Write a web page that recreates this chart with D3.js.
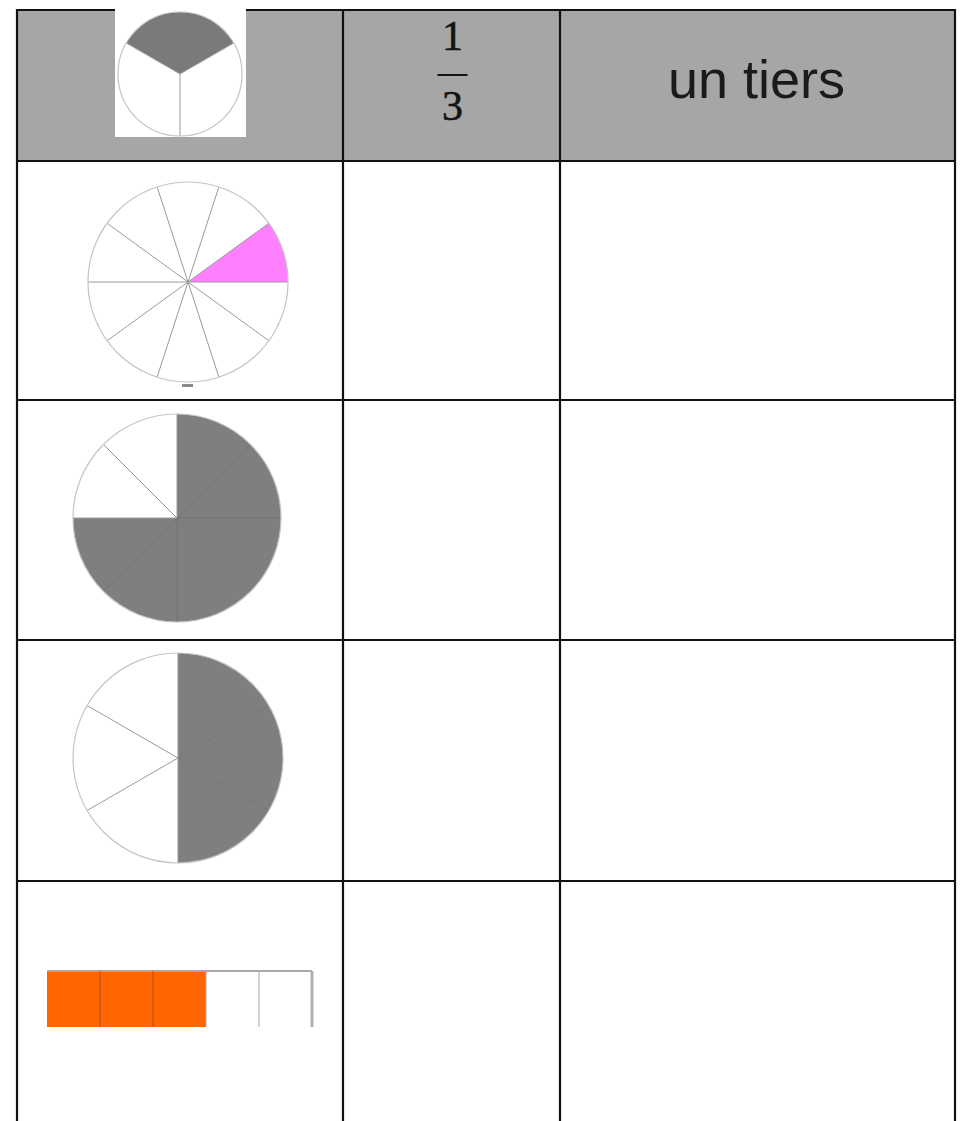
<!DOCTYPE html>
<html>
<head>
<meta charset="utf-8">
<script src="https://cdn.jsdelivr.net/npm/d3@7"></script>
<style>
  body { margin: 0; background: #fff; }
  svg { display: block; }
</style>
</head>
<body>
<svg width="960" height="1121"></svg>
<script>
// fraction models, one per row (header first)
const pieParts = [3, 10, 8, 6];
const pieShaded = [[0], [1], [0, 1, 2, 3, 4, 5], [0, 1, 2]];
const pieOffsetDeg = [-60, 18, 0, 0];
const pieColors = ['#7a7a7a', '#ff80ff', '#7f7f7f', '#7f7f7f'];

const barParts = [0, 1, 2, 3, 4];
const barShaded = [0, 1, 2];

const fracNum = '1';
const fracDen = '3';
const headerWord = 'un tiers';

const svg = d3.select('svg');
const colX = [17, 343, 560, 955];
const rowY = [10, 161, 400, 640, 881, 1121];

// header background
svg.append('rect')
    .attr('x', colX[0]).attr('y', rowY[0])
    .attr('width', colX[3] - colX[0]).attr('height', rowY[1] - rowY[0])
    .attr('fill', '#a6a6a6');

// grid lines
const grid = svg.append('g').attr('stroke', '#111').attr('stroke-width', 2.2);
rowY.slice(0, 5).forEach(y => {
    grid.append('line').attr('x1', colX[0] - 1).attr('x2', colX[3] + 1).attr('y1', y).attr('y2', y);
});
colX.forEach(x => {
    grid.append('line').attr('x1', x).attr('x2', x).attr('y1', rowY[0] - 1).attr('y2', rowY[5]);
});

// header texts
const fx = (colX[1] + colX[2]) / 2 + 1;
svg.append('text').attr('x', fx).attr('y', 50)
    .attr('text-anchor', 'middle')
    .style('font-family', '"Liberation Serif", "DejaVu Serif", serif')
    .style('font-size', '42px').attr('fill', '#141414')
    .attr('stroke', '#141414').attr('stroke-width', 0.6)
    .text(fracNum);
svg.append('line').attr('x1', fx - 15).attr('x2', fx + 15).attr('y1', 75).attr('y2', 75)
    .attr('stroke', '#141414').attr('stroke-width', 2);
svg.append('text').attr('x', fx).attr('y', 120)
    .attr('text-anchor', 'middle')
    .style('font-family', '"Liberation Serif", "DejaVu Serif", serif')
    .style('font-size', '42px').attr('fill', '#141414')
    .attr('stroke', '#141414').attr('stroke-width', 0.6)
    .text(fracDen);

svg.append('text').attr('x', (colX[2] + colX[3]) / 2 - 1).attr('y', 98)
    .attr('text-anchor', 'middle')
    .style('font-family', '"Liberation Sans", Arial, sans-serif')
    .style('font-size', '54px').attr('fill', '#1a1a1a')
    .text(headerWord);

// pies
const pieBoxes = [
    { cx: 180, cy: 74, r: 62 },
    { cx: 188, cy: 282, r: 100 },
    { cx: 177, cy: 518, r: 104 },
    { cx: 178, cy: 758, r: 105 }
];

// white box behind header pie
svg.append('rect').attr('x', 115).attr('y', 3).attr('width', 131).attr('height', 134).attr('fill', '#fff');

pieParts.forEach((n, i) => {
    const b = pieBoxes[i];
    const off = pieOffsetDeg[i] * Math.PI / 180;
    const pie = d3.pie().sort(null).value(1)
        .startAngle(off).endAngle(off + 2 * Math.PI);
    const arcs = pie(d3.range(n));
    const arc = d3.arc().innerRadius(0).outerRadius(b.r);
    const g = svg.append('g').attr('transform', `translate(${b.cx},${b.cy})`);

    g.selectAll('path.slice')
        .data(arcs)
        .join('path')
        .attr('class', 'slice')
        .attr('d', arc)
        .attr('fill', d => pieShaded[i].includes(d.index) ? pieColors[i] : '#fff')
        .attr('stroke', 'none');

    // radii
    g.selectAll('line.radius')
        .data(arcs)
        .join('line')
        .attr('class', 'radius')
        .attr('x1', 0).attr('y1', 0)
        .attr('x2', d => b.r * Math.sin(d.startAngle))
        .attr('y2', d => -b.r * Math.cos(d.startAngle))
        .attr('stroke', d => {
            const prev = (d.index - 1 + n) % n;
            const shadedNow = pieShaded[i].includes(d.index) && pieShaded[i].includes(prev);
            return shadedNow ? '#737373' : '#9a9a9a';
        })
        .attr('stroke-width', 1);

    g.append('circle').attr('r', b.r)
        .attr('fill', 'none')
        .attr('stroke', '#c4c4c4')
        .attr('stroke-width', 1.2);
});

// small mark under the ten-part pie
svg.append('rect')
    .attr('x', pieBoxes[1].cx - 6).attr('y', pieBoxes[1].cy + pieBoxes[1].r + 2)
    .attr('width', 11).attr('height', 3).attr('fill', '#8a8a8a');

// bar model
const bx = d3.scaleBand().domain(barParts).range([47, 312]).padding(0);
const barTop = 971, barH = 56;
const bar = svg.append('g');
bar.selectAll('rect')
    .data(barParts)
    .join('rect')
    .attr('x', d => bx(d)).attr('y', barTop)
    .attr('width', bx.bandwidth()).attr('height', barH)
    .attr('fill', d => barShaded.includes(d) ? '#ff6600' : '#fff');
bar.append('line')
    .attr('x1', bx(barParts[0])).attr('x2', bx(barParts[4]) + bx.bandwidth())
    .attr('y1', barTop).attr('y2', barTop)
    .attr('stroke', '#a8a8a8').attr('stroke-width', 2);
bar.selectAll('line.div')
    .data(barParts.slice(1))
    .join('line')
    .attr('class', 'div')
    .attr('x1', d => bx(d)).attr('x2', d => bx(d))
    .attr('y1', barTop).attr('y2', barTop + barH)
    .attr('stroke', d => barShaded.includes(d) ? '#a0502a' : '#a8a8a8')
    .attr('stroke-width', 1);
bar.append('line')
    .attr('x1', bx(barParts[4]) + bx.bandwidth()).attr('x2', bx(barParts[4]) + bx.bandwidth())
    .attr('y1', barTop).attr('y2', barTop + barH)
    .attr('stroke', '#b0b0b0').attr('stroke-width', 3);
</script>
</body>
</html>
